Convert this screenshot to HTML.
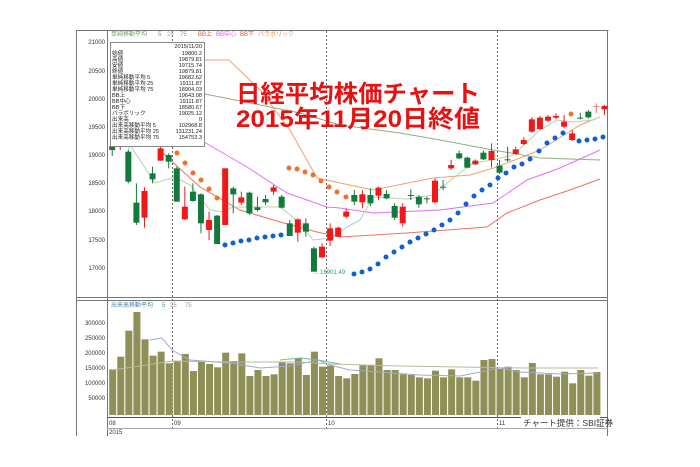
<!DOCTYPE html>
<html><head><meta charset="utf-8"><style>
html,body{margin:0;padding:0;background:#fff;width:700px;height:467px;overflow:hidden}
svg{display:block}
text{font-family:"Liberation Sans","Noto Sans CJK JP",sans-serif}
</style></head><body>
<svg id="s" width="700" height="467" xmlns="http://www.w3.org/2000/svg">
<rect width="700" height="467" fill="#fff"/>
<g stroke="#777" fill="none" stroke-width="1">
<line x1="76.5" y1="30.5" x2="608.5" y2="30.5"/>
<line x1="76.5" y1="30.5" x2="76.5" y2="436"/>
<line x1="607.5" y1="30.5" x2="607.5" y2="436"/>
<line x1="107.5" y1="30.5" x2="107.5" y2="436"/>
<line x1="76.5" y1="297.5" x2="608" y2="297.5"/>
<line x1="76.5" y1="300.5" x2="608" y2="300.5"/>
<line x1="107" y1="417.5" x2="608" y2="417.5" stroke="#555"/>
<line x1="107" y1="428.5" x2="608" y2="428.5" stroke="#aaa"/>
</g>
<g stroke="#666" stroke-dasharray="2,2" stroke-width="1">
<line x1="172.5" y1="31" x2="172.5" y2="428"/>
<line x1="326.5" y1="31" x2="326.5" y2="428"/>
<line x1="497.5" y1="31" x2="497.5" y2="428"/>
</g>
<g font-size="6" fill="#333" text-anchor="end">
<text x="105" y="44">21000</text><text x="105" y="73">20500</text><text x="105" y="101">20000</text>
<text x="105" y="129">19500</text><text x="105" y="157">19000</text><text x="105" y="185">18500</text>
<text x="105" y="213">18000</text><text x="105" y="242">17500</text><text x="105" y="270">17000</text>
<text x="105" y="325">300000</text><text x="105" y="340">250000</text><text x="105" y="355">200000</text>
<text x="105" y="370">150000</text><text x="105" y="385">100000</text><text x="105" y="400">50000</text>
</g>
<g font-size="6" fill="#333">
<text x="109" y="425">08</text><text x="174" y="425">09</text><text x="328" y="425">10</text><text x="499" y="425">11</text>
<text x="109" y="434">2015</text>
</g>
<g font-size="6">
<text x="111" y="36" fill="#7a9a6a">単純移動平均</text><text x="158" y="36" fill="#7a9a6a">5</text><text x="167" y="36" fill="#e8905a">25</text><text x="180" y="36" fill="#7a9a6a">75</text>
<text x="198" y="36" fill="#f05030">BB上</text><text x="216" y="36" fill="#d060e0">BB中心</text><text x="240" y="36" fill="#f05030">BB下</text><text x="258" y="36" fill="#f09050">パラボリック</text>
<text x="111" y="307" fill="#4a8aa0">出来高移動平均</text><text x="162" y="307" fill="#4a8aa0">5</text><text x="170" y="307" fill="#999">25</text><text x="185" y="307" fill="#999">75</text>
</g>
<g id="lines" fill="none" stroke-width="1"></g>
<g id="cand"></g>
<g id="dots"></g>
<g id="vol"></g>
<g id="vlines" fill="none" stroke-width="1"></g>
<rect x="110.5" y="42.5" width="94" height="104" fill="#fff" stroke="#888"/>
<g font-size="5.6" fill="#222">
<text x="202" y="48" text-anchor="end">2015/11/20</text>
<text x="112" y="55">始値</text><text x="202" y="55" text-anchor="end">19800.2</text>
<text x="112" y="61">高値</text><text x="202" y="61" text-anchor="end">19879.81</text>
<text x="112" y="67">安値</text><text x="202" y="67" text-anchor="end">19715.74</text>
<text x="112" y="73">終値</text><text x="202" y="73" text-anchor="end">19879.81</text>
<text x="112" y="79">単純移動平均 5</text><text x="202" y="79" text-anchor="end">19682.62</text>
<text x="112" y="85">単純移動平均 25</text><text x="202" y="85" text-anchor="end">19111.87</text>
<text x="112" y="91">単純移動平均 75</text><text x="202" y="91" text-anchor="end">18904.03</text>
<text x="112" y="97">BB上</text><text x="202" y="97" text-anchor="end">19643.08</text>
<text x="112" y="103">BB中心</text><text x="202" y="103" text-anchor="end">19111.87</text>
<text x="112" y="109">BB下</text><text x="202" y="109" text-anchor="end">18580.67</text>
<text x="112" y="115">パラボリック</text><text x="202" y="115" text-anchor="end">19025.12</text>
<text x="112" y="121">出来高</text><text x="202" y="121" text-anchor="end">0</text>
<text x="112" y="127">出来高移動平均 5</text><text x="202" y="127" text-anchor="end">102968.8</text>
<text x="112" y="133">出来高移動平均 25</text><text x="202" y="133" text-anchor="end">131231.24</text>
<text x="112" y="139">出来高移動平均 75</text><text x="202" y="139" text-anchor="end">154753.3</text>
</g>
<text x="314" y="274" font-size="6" fill="#2a9a8a">←16901.49</text>
<g font-size="24" font-weight="bold" fill="#e81010">
<text x="236" y="102" textLength="244" lengthAdjust="spacingAndGlyphs">日経平均株価チャート</text>
<text x="236" y="127" textLength="244" lengthAdjust="spacingAndGlyphs">2015年11月20日終値</text>
</g>
<rect x="521" y="416" width="79" height="12" fill="#fff"/>
<text x="523" y="426" font-size="8.5" fill="#333">チャート提供：SBI証券</text>
</svg>
<script>
var NS="http://www.w3.org/2000/svg";
function el(p,t,a){var e=document.createElementNS(NS,t);for(var k in a)e.setAttribute(k,a[k]);document.getElementById(p).appendChild(e);return e;}
function X(i){return 112.2+8.07*i;}
var c3=[[2,65,155,60,160,'G'],[3,218,278,160,285,'G'],[4,183,263,172,293,'R'],[5,130,148,110,160,'G'],[6,55,92,50,92,'R'],[7,75,95,70,115,'G'],[8,115,215,110,215,'G'],[9,230,268,170,270,'R'],[10,185,213,160,215,'G'],[11,193,280,190,310,'G'],[12,270,300,245,330,'R'],[13,257,342,255,342,'G'],[14,115,285,115,285,'R'],[15,175,193,170,250,'G'],[16,202,218,185,225,'R'],[17,188,250,185,255,'G'],[18,232,240,200,245,'G'],[19,207,217,195,225,'G'],[20,172,185,165,195,'R'],[21,200,233,195,235,'G'],[22,280,318,270,318,'G'],[23,268,308,265,335,'R'],[24,280,305,265,320,'G'],[25,355,425,350,425,'G'],[26,350,382,340,385,'R'],[27,295,332,280,348,'R'],[28,293,320,290,320,'R']];
var c4=[[29,395,410,385,415,'R'],[30,345,365,330,375,'G'],[31,343,367,330,385,'R'],[32,345,370,325,378,'G'],[33,323,347,320,360,'R'],[34,342,355,330,357,'G'],[35,378,413,370,420,'G'],[36,380,430,370,440,'R'],[37,345,348,328,360,'G'],[38,350,373,345,383,'G'],[39,355,358,350,370,'G'],[40,302,367,295,370,'R'],[41,320,323,300,330,'G'],[42,255,265,240,270,'R'],[43,220,235,212,237,'G'],[44,233,263,230,265,'G'],[45,242,253,238,255,'R'],[46,218,238,212,240,'G'],[47,213,240,190,262,'R'],[48,257,278,240,282,'G'],[49,238,241,200,245,'G'],[50,208,222,200,225,'R'],[51,180,192,172,195,'R'],[52,118,155,112,158,'R'],[53,113,147,108,150,'R'],[54,110,122,105,125,'R'],[55,108,113,100,118,'R'],[56,125,140,105,145,'R'],[57,160,180,150,183,'R'],[58,113,116,98,118,'G'],[59,95,112,90,115,'G'],[60,78,80,70,100,'P'],[61,78,88,75,105,'R']];
var C=[[0,146,150,140,156,'G'],[1,128,146,124,150,'R']];
c3.forEach(function(c){C.push([c[0],130+c[1]/3,130+c[2]/3,130+c[3]/3,130+c[4]/3,c[5]]);});
c4.forEach(function(c){C.push([c[0],80+c[1]/3,80+c[2]/3,80+c[3]/3,80+c[4]/3,c[5]]);});
var col={G:'#127a3a',R:'#f01818',P:'#f08080'};
C.forEach(function(c){var x=X(c[0]);
el('cand','line',{x1:x,x2:x,y1:c[3],y2:c[4],stroke:col[c[5]],'stroke-width':1});
el('cand','rect',{x:x-3,y:c[1],width:6,height:Math.max(1,c[2]-c[1]),fill:col[c[5]]});});
function pl(pts,color,w,g){el(g||'lines','polyline',{points:pts.map(function(p){return p.join(',')}).join(' '),stroke:color,'stroke-width':w||1,fill:'none'});}
pl([[205,60],[229,60],[260,90],[290,130],[317,178],[340,183],[373,190],[433,178],[470,175],[497,167],[540,150],[580,125],[600,117]],'#f0a070',1);
pl([[204,142],[247,167],[287,193],[327,207],[340,208],[373,213],[440,210],[493,203],[527,180],[560,168],[600,150]],'#e070f0',1);
pl([[205,94],[260,105],[300,113],[340,125],[400,133],[440,140],[493,150],[540,158],[600,160]],'#90b080',1);
pl([[160,150],[167,157],[200,187],[240,210],[280,222],[317,232],[340,237],[407,233],[487,227],[507,213],[540,200],[570,190],[600,179]],'#f07060',1);
pl([[128,150],[130,145],[155,183],[175,177],[190,185],[210,210],[223,212],[233,207],[257,207],[280,207],[300,223],[313,240],[333,238],[347,227],[360,220],[373,197],[407,199],[433,195],[447,183],[473,163],[493,160],[513,155],[540,130],[557,120],[573,122],[593,120],[600,117]],'#b8d0b0',1);
var od=[[177,153],[185,163],[193,173],[201,180],[209,189],[217,198],[289,168],[297,169],[305,172],[313,175],[321,181],[329,187],[337,192],[346,197],[571,114]];
od.forEach(function(d){el('dots','circle',{cx:d[0],cy:d[1],r:2.5,fill:'#f07030'});});
var bd=[[225,245],[233,243],[241,241],[249,240],[257,238],[265,237],[273,236],[281,235],[354,274],[362,272],[370,269],[378,264],[386,257],[394,252],[402,247],[410,242],[418,238],[426,234],[434,230],[442,225],[450,220],[458,213],[466,204],[474,196],[482,190],[490,185],[498,178],[506,173],[514,167],[522,164],[530,159],[539,151],[547,143],[555,138],[563,133],[579,141],[587,140],[595,139],[603,137]];
bd.forEach(function(d){el('dots','circle',{cx:d[0],cy:d[1],r:2.5,fill:'#1060d0'});});
var v=[238,200,122,66,148,197,185,220,212,192,243,215,222,232,188,213,190,258,240,258,253,216,220,205,255,185,230,227,258,265,252,226,226,205,240,240,253,255,262,265,242,262,238,262,262,272,210,207,237,230,240,262,219,253,253,260,245,280,240,257,246];
v.forEach(function(t,i){var x=X(i)-3.5+0.5;var y=290+t/3;el('vol','rect',{x:x,y:y,width:7,height:415-y,fill:'#8f8f58'});});
pl([[150,340],[162,338],[172,350],[190,360],[230,363],[260,368],[290,366],[318,360],[330,365],[350,370],[380,372],[420,375],[460,376],[480,372],[500,368],[520,372],[560,374],[598,373]],'#a0a8d8',1,'vlines');
pl([[112,370],[140,366],[172,361],[230,362],[300,362],[330,364],[400,366],[460,367],[520,368],[598,368]],'#b8b898',1,'vlines');
pl([[280,360],[300,358],[318,360],[340,364]],'#70c0a0',1,'vlines');
</script>
</body></html>
